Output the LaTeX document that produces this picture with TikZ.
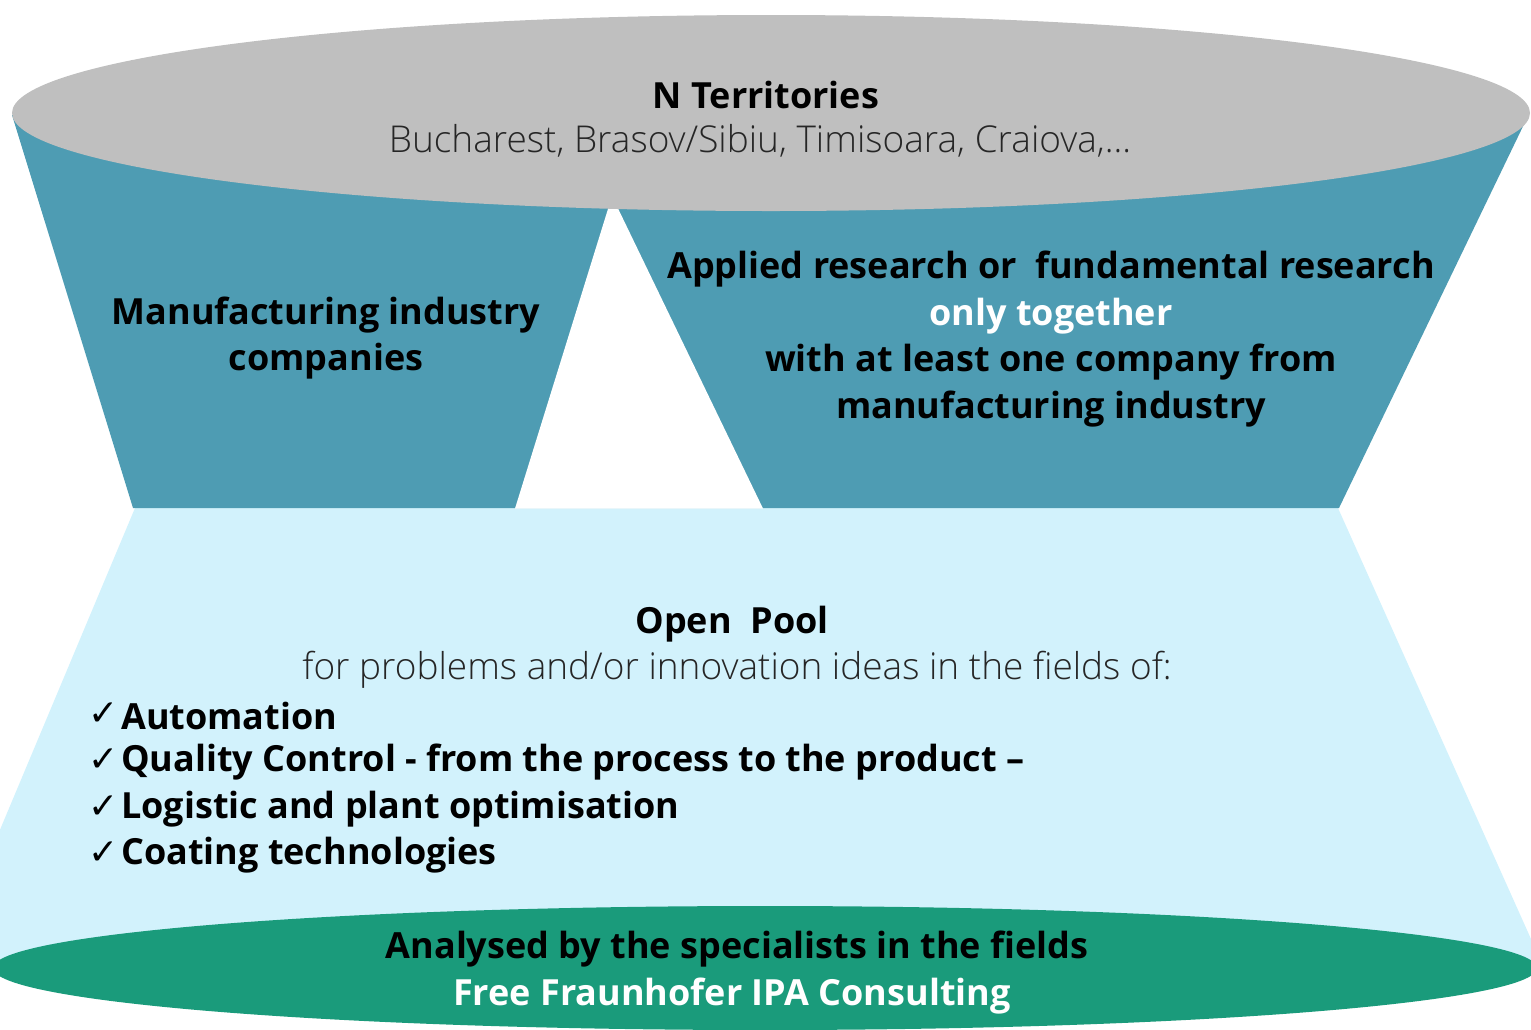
\documentclass[tikz,border=0pt]{standalone}
\usepackage{fontspec}
\setmainfont{Open Sans}
\newfontfamily\lightfont{Open Sans Light}
\newfontfamily\symfont{DejaVu Sans}
\definecolor{topgray}{HTML}{BFBFBF}
\definecolor{tealc}{HTML}{4E9CB3}
\definecolor{paleblue}{HTML}{D2F2FC}
\definecolor{greenc}{HTML}{1A9B7B}
\definecolor{txtgray}{HTML}{262626}
\tikzset{
  boldtxt/.style={font=\fontsize{36}{46.5}\selectfont\bfseries, align=center, inner sep=0pt},
  lighttxt/.style={font=\fontsize{37}{46}\selectfont\lightfont, text=txtgray, align=center, inner sep=0pt},
  checktxt/.style={font=\fontsize{36}{46}\selectfont\bfseries, align=left, inner sep=0pt, anchor=west},
  checkmark/.style={font=\symfont\fontsize{36}{46}\selectfont, inner sep=0pt, anchor=east}
}
\begin{document}
\begin{tikzpicture}[x=1pt,y=-1pt]
\useasboundingbox (0,0) rectangle (1531,1029);
\begin{scope}
\clip (0,0) rectangle (1531,1029);
% pale blue trapezoid
\fill[paleblue] (135,508) -- (1338,508) -- (1544,968) -- (-58,968) -- cycle;
% green ellipse
\fill[greenc] (765,968) ellipse [x radius=772, y radius=62];
% teal funnel
\fill[tealc] (12,115) -- (133,508) -- (1339,508) -- (1527,118) -- cycle;
\fill[white] (612,196) -- (515,508.5) -- (763,508.5) -- cycle;
% gray top ellipse
\fill[topgray] (771,113) ellipse [x radius=759, y radius=98];
\end{scope}
% texts
\node[boldtxt] (nt) at (766,95) {N Territories};
\node[lighttxt] (cities) at (760,141) {Bucharest, Brasov/Sibiu, Timisoara, Craiova,...};
\node[boldtxt] (manu) at (326,338) {Manufacturing industry\\companies};
\node[boldtxt] (applied) at (1051,339) {Applied research or\ \ fundamental research\\\textcolor{white}{only together}\\with at least one company from\\manufacturing industry};
\node[boldtxt] (open) at (732,624) {Open\ \ Pool};
\node[lighttxt] (forp) at (737,670) {for problems and/or innovation ideas in the fields of:};
\node[checktxt] (c1) at (121,716) {Automation};
\node[checktxt] (c2) at (121,762) {Quality Control - from the process to the product –};
\node[checktxt] (c3) at (121,809) {Logistic and plant optimisation};
\node[checktxt] (c4) at (121,855) {Coating technologies};
\node[checkmark] (k1) at (119,714) {✓};
\node[checkmark] (k2) at (119,760) {✓};
\node[checkmark] (k3) at (119,807) {✓};
\node[checkmark] (k4) at (119,853) {✓};
\node[boldtxt] (anal) at (737,949) {Analysed by the specialists in the fields};
\node[boldtxt, text=white] (free) at (732,996) {Free Fraunhofer IPA Consulting};
\end{tikzpicture}
\end{document}
